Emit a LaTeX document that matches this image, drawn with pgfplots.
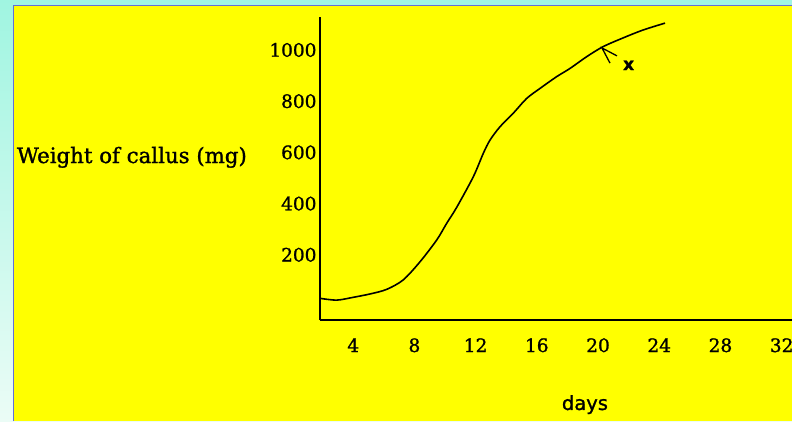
\documentclass[border=0pt]{standalone}
\usepackage{fontspec}
\setmainfont{DejaVu Serif}[FakeBold=1.2]
\newfontfamily\sansf{DejaVu Sans}[FakeBold=1.2]
\usepackage{pgfplots}
\pgfplotsset{compat=1.18}
\definecolor{bgcyan}{RGB}{160,245,225}
\definecolor{bgwhite}{RGB}{235,252,246}
\definecolor{bordblue}{RGB}{100,110,215}
\definecolor{chartyellow}{RGB}{255,255,0}
\begin{document}
\begin{tikzpicture}[x=1pt,y=1pt]
\clip (0,0) rectangle (792,421);
\shade[top color=bgcyan, bottom color=bgwhite] (0,0) rectangle (792,421);
\fill[chartyellow] (14,0) rectangle (792,415);
\draw[bordblue, line width=1.2pt] (13.4,0) -- (13.4,415.6) -- (792,415.6);
\begin{axis}[
  at={(320pt,101pt)}, anchor=south west,
  scale only axis, width=480pt, height=303pt,
  xmin=1.83, xmax=33.2, ymin=-54.7, ymax=1128.9,
  axis x line=bottom, axis y line=left,
  axis line style={-, line width=1.4pt, black},
  xtick={4,8,...,32}, ytick={200,400,...,1000},
  major tick length=0pt,
  tick label style={font=\fontsize{18.5}{18.5}\selectfont},
  xticklabel style={anchor=base, yshift=-32pt},
  yticklabel style={anchor=east, xshift=0pt},
  /pgf/number format/assume math mode=true,
  /pgf/number format/1000 sep={},
  xlabel={days}, ylabel={Weight of callus (mg)},
  every axis x label/.style={at={(axis description cs:0.552,-0.297)}, anchor=base, font=\sansf\fontsize{19.5}{19.5}\selectfont},
  every axis y label/.style={at={(axis description cs:-0.152,0.518)}, anchor=base east, inner sep=0pt, font=\fontsize{21.3}{21.3}\selectfont},
  clip=false,
]
\addplot[smooth, black, line width=1.6pt] coordinates {
(1.83,30) (2.92,23) (4.01,34) (5.10,47) (6.19,65) (7.27,102) (8.37,173)
(9.46,258) (10.11,323) (10.76,385) (11.85,505) (12.50,596) (12.94,648)
(13.59,700) (14.46,753) (15.34,811) (16.21,850) (17.30,896) (18.17,928)
(19.26,974) (20.33,1013) (21.63,1047) (22.94,1078) (24.38,1105)
};
\draw[line width=1.3pt] (axis cs:21.24,977) -- (axis cs:20.26,1008) -- (axis cs:20.78,949);
\node[font=\sansf\bfseries\fontsize{17}{17}\selectfont, anchor=center] at (axis cs:22.0,940) {x};
\end{axis}
\end{tikzpicture}
\end{document}
